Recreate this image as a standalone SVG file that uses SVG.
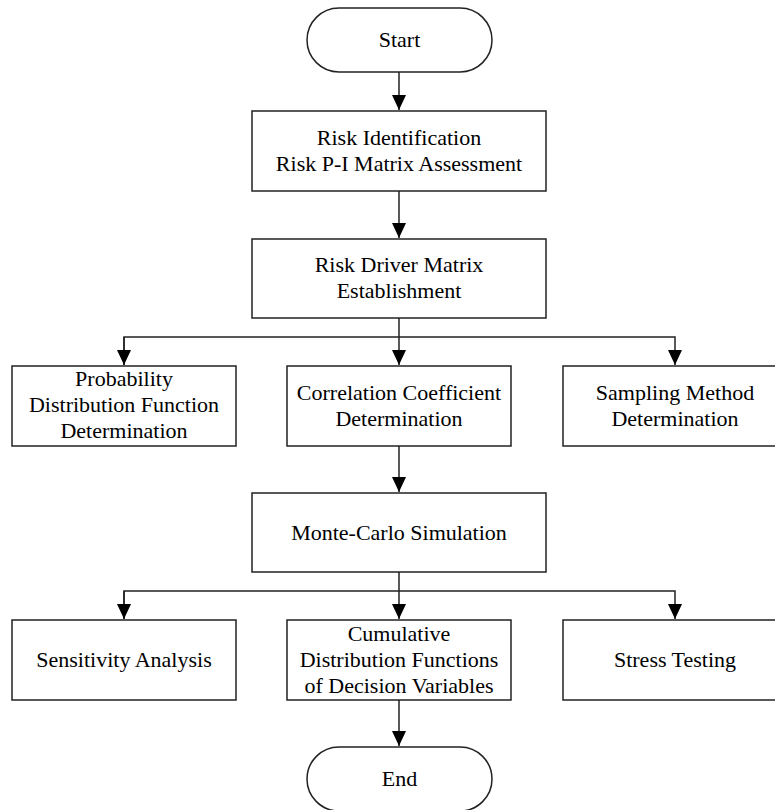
<svg xmlns="http://www.w3.org/2000/svg" width="775" height="810" viewBox="0 0 775 810">
<style>
.n{fill:#fff;stroke:#222;stroke-width:1.5}
.t{font-size:22px;fill:#000;text-anchor:middle}
.c{fill:none;stroke:#222;stroke-width:1.5}
</style>
<defs>
<marker id="ah" markerUnits="userSpaceOnUse" markerWidth="16" markerHeight="16" viewBox="0 0 16 16" refX="15" refY="8" orient="auto">
<path d="M0,1 L15,8 L0,15 Z" fill="#000"/>
</marker>
</defs>
<rect width="775" height="810" fill="#fff"/>
<g id="connectors">
<path class="c" d="M399,72 V110" marker-end="url(#ah)"/>
<path class="c" d="M399,191 V238" marker-end="url(#ah)"/>
<path class="c" d="M399,318 V365" marker-end="url(#ah)"/>
<path class="c" d="M124,365 V337 H675 V365" marker-end="url(#ah)"/>
<path class="c" d="M124,337 V365" marker-end="url(#ah)"/>
<path class="c" d="M399,446 V492" marker-end="url(#ah)"/>
<path class="c" d="M399,572 V619" marker-end="url(#ah)"/>
<path class="c" d="M124,619 V591 H675 V619" marker-end="url(#ah)"/>
<path class="c" d="M124,591 V619" marker-end="url(#ah)"/>
<path class="c" d="M399,700 V746" marker-end="url(#ah)"/>
</g>
<g font-family="'Liberation Serif', 'Times New Roman', 'DejaVu Serif', serif">
<g id="start"><rect class="n" x="307" y="8" width="185" height="64" rx="32" ry="32"/><text class="t" x="399.5" y="47">Start</text></g>
<g id="risk-identification"><rect class="n" x="252" y="111" width="294" height="80"/><text class="t" x="399" y="145">Risk Identification</text><text class="t" x="399" y="171">Risk P-I Matrix Assessment</text></g>
<g id="risk-driver"><rect class="n" x="252" y="239" width="294" height="79"/><text class="t" x="399" y="272">Risk Driver Matrix</text><text class="t" x="399" y="298">Establishment</text></g>
<g id="probability"><rect class="n" x="12" y="366" width="224" height="80"/><text class="t" x="124" y="386">Probability</text><text class="t" x="124" y="412">Distribution Function</text><text class="t" x="124" y="438">Determination</text></g>
<g id="correlation"><rect class="n" x="287" y="366" width="224" height="80"/><text class="t" x="399" y="400">Correlation Coefficient</text><text class="t" x="399" y="426">Determination</text></g>
<g id="sampling"><rect class="n" x="563" y="366" width="224" height="80"/><text class="t" x="675" y="400">Sampling Method</text><text class="t" x="675" y="426">Determination</text></g>
<g id="monte-carlo"><rect class="n" x="252" y="493" width="294" height="79"/><text class="t" x="399" y="540">Monte-Carlo Simulation</text></g>
<g id="sensitivity"><rect class="n" x="12" y="620" width="224" height="80"/><text class="t" x="124" y="667">Sensitivity Analysis</text></g>
<g id="cumulative"><rect class="n" x="287" y="620" width="224" height="80"/><text class="t" x="399" y="641">Cumulative</text><text class="t" x="399" y="667">Distribution Functions</text><text class="t" x="399" y="693">of Decision Variables</text></g>
<g id="stress"><rect class="n" x="563" y="620" width="224" height="80"/><text class="t" x="675" y="667">Stress Testing</text></g>
<g id="end"><rect class="n" x="307" y="747" width="185" height="64" rx="32" ry="32"/><text class="t" x="399.5" y="786">End</text></g>
</g>
</svg>
